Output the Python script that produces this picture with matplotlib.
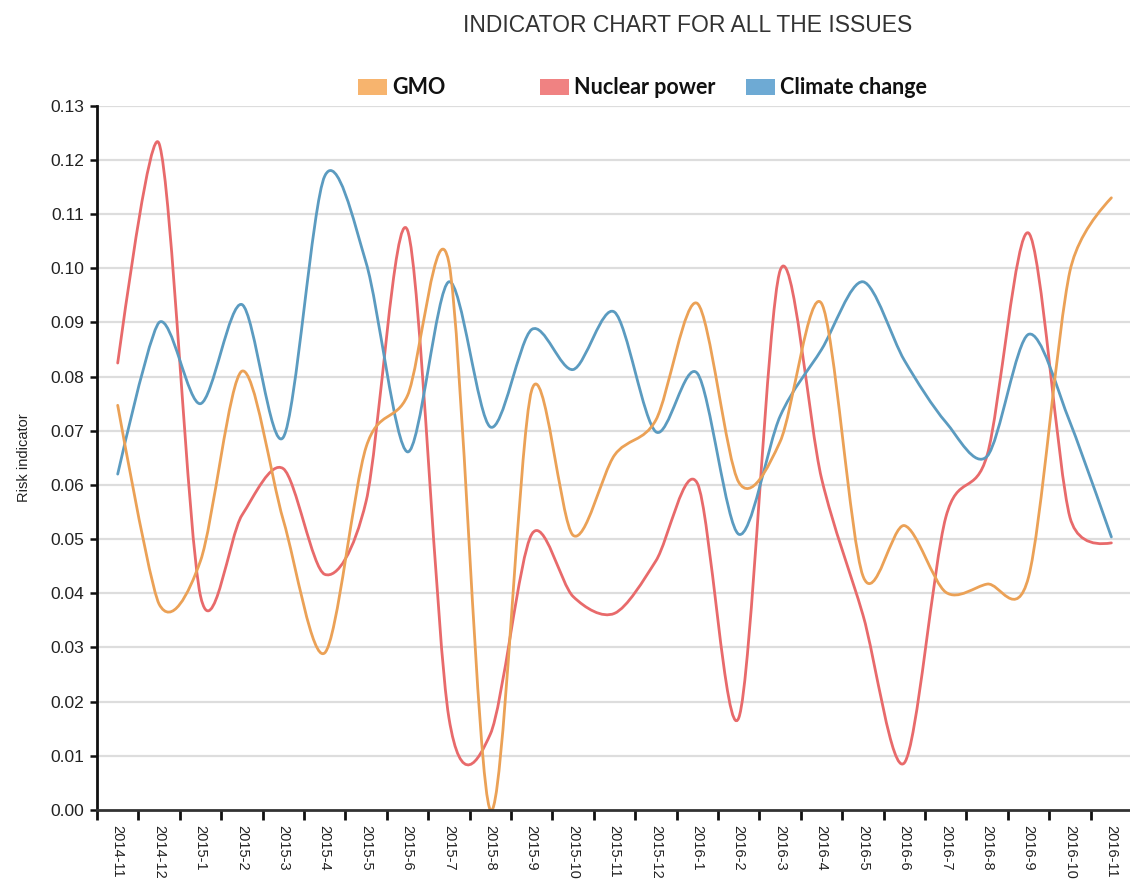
import numpy as np
import matplotlib.pyplot as plt
from matplotlib.path import Path
from matplotlib.patches import PathPatch, Rectangle

# months on the x axis
months = ['2014-11', '2014-12', '2015-1', '2015-2', '2015-3', '2015-4', '2015-5',
          '2015-6', '2015-7', '2015-8', '2015-9', '2015-10', '2015-11', '2015-12',
          '2016-1', '2016-2', '2016-3', '2016-4', '2016-5', '2016-6', '2016-7',
          '2016-8', '2016-9', '2016-10', '2016-11']

gmo = [0.0747, 0.0380, 0.0460, 0.0810, 0.0535, 0.0290, 0.0670, 0.0765, 0.1010,
       0.0000, 0.0775, 0.0507, 0.0655, 0.0720, 0.0935, 0.0605, 0.0680, 0.0935,
       0.0432, 0.0525, 0.0402, 0.0417, 0.0430, 0.0995, 0.1130]
nuclear = [0.0825, 0.1230, 0.0395, 0.0544, 0.0630, 0.0435, 0.0570, 0.1070, 0.0170,
           0.0140, 0.0509, 0.0394, 0.0363, 0.0460, 0.0603, 0.0170, 0.0996, 0.0612,
           0.0360, 0.0087, 0.0540, 0.0655, 0.1065, 0.0540, 0.0493]
climate = [0.0620, 0.0900, 0.0750, 0.0933, 0.0688, 0.1170, 0.1010, 0.0661, 0.0975,
           0.0707, 0.0887, 0.0813, 0.0919, 0.0698, 0.0806, 0.0509, 0.0727, 0.0850,
           0.0975, 0.0830, 0.0716, 0.0653, 0.0878, 0.0716, 0.0504]

series = [('GMO', gmo, '#eba156', '#f7b46e'),
          ('Nuclear power', nuclear, '#e86a6b', '#f08282'),
          ('Climate change', climate, '#5b9bc0', '#6eaad4')]


def cardinal_path(xs, ys, tension=0.7):
    # cardinal spline like d3 v3 "cardinal" interpolation
    pts = np.column_stack([xs, ys]).astype(float)
    a = (1 - tension) / 2
    tang = a * (pts[2:] - pts[:-2])
    verts = [pts[0], pts[1] - tang[0] * 2 / 3, pts[1]]
    codes = [Path.MOVETO, Path.CURVE3, Path.CURVE3]
    for k in range(1, len(tang)):
        verts += [pts[k] + tang[k - 1], pts[k + 1] - tang[k], pts[k + 1]]
        codes += [Path.CURVE4] * 3
    verts += [pts[-2] + tang[-1] * 2 / 3, pts[-1]]
    codes += [Path.CURVE3] * 2
    return Path(verts, codes)


plt.rcParams['font.family'] = ['Liberation Sans', 'DejaVu Sans']

fig = plt.figure(figsize=(11.3, 8.84), dpi=100)
ax = fig.add_axes([97 / 1130, 1 - 810 / 884, 1 - 97 / 1130, (810 - 105.7) / 884])

x = np.arange(len(months))
for name, vals, lc, _ in [series[1], series[2], series[0]]:
    ax.add_patch(PathPatch(cardinal_path(x, vals), facecolor='none', edgecolor=lc,
                           lw=2.0, capstyle='round', joinstyle='round', zorder=3))

ax.set_xlim(-0.5, 24.45)
ax.set_ylim(0, 0.13)

yt = np.round(np.arange(0, 0.1301, 0.01), 2)
ax.set_yticks(yt)
ax.set_yticklabels([f'{v:.2f}' for v in yt], fontsize=12.5, color='#222222')
for v in yt[1:]:
    ax.axhline(v, color='#dddddd', lw=1.6, zorder=1)

ax.set_xticks(x)
ax.set_xticklabels(months, rotation=-90, fontsize=10.5, color='#222222')
ax.set_xticks(x - 0.5, minor=True)
ax.tick_params(axis='x', which='major', length=0, pad=11)
ax.tick_params(axis='x', which='minor', length=7, width=2, color='#111111')
ax.tick_params(axis='y', length=5, width=1.8, color='#111111', pad=4)
for lab in ax.get_xticklabels():
    lab.set_va('top')
    lab.set_ha('center')

for s in ['top', 'right']:
    ax.spines[s].set_visible(False)
ax.spines['left'].set_linewidth(2)
ax.spines['left'].set_color('#111111')
ax.spines['bottom'].set_linewidth(2)
ax.spines['bottom'].set_color('#333333')
ax.spines['bottom'].set_zorder(5)

ax.set_ylabel('Risk indicator', fontsize=10.5, color='#222222', labelpad=14)

fig.text(688 / 1130, 1 - 26 / 884, 'INDICATOR CHART FOR ALL THE ISSUES',
         ha='center', va='center', fontsize=16.5, color='#333333')

# legend drawn by hand to keep the original spacing
leg_x = [358, 540, 746]
for (name, _, _, fc), lx in zip(series, leg_x):
    fig.add_artist(Rectangle((lx / 1130, 1 - 95 / 884), 29 / 1130, 16 / 884,
                             transform=fig.transFigure, facecolor=fc,
                             edgecolor='none'))
    fig.text((lx + 34) / 1130, 1 - 87 / 884, name, ha='left', va='center',
             fontsize=15.5, fontweight='bold', family=['Lato', 'DejaVu Sans'],
             color='#111111')

fig.savefig('out.png', dpi=100)
